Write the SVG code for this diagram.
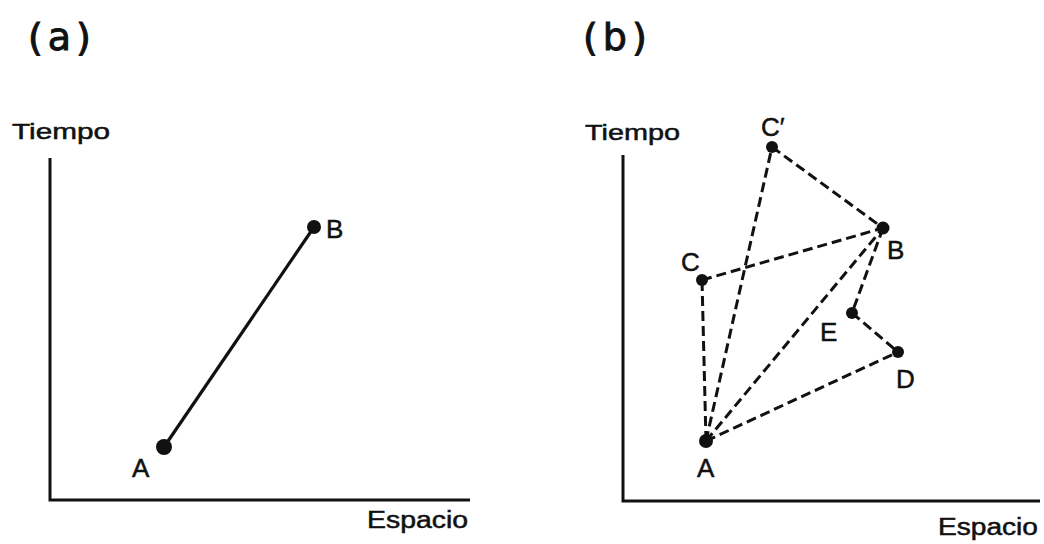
<svg xmlns="http://www.w3.org/2000/svg" width="1044" height="544" viewBox="0 0 1044 544">
<style>
.t{font-family:"Liberation Sans",Arial,sans-serif;fill:#111;stroke:#111;stroke-width:0.5}
.lbl{font-size:26px}
.ttl{font-family:"DejaVu Sans","Liberation Sans",sans-serif;font-size:38px;fill:#111;stroke:#111;stroke-width:1;letter-spacing:5px}
.axis{stroke:#111;stroke-width:3;fill:none}
.solid{stroke:#111;stroke-width:3.2;fill:none}
.dash{stroke:#111;stroke-width:3;fill:none;stroke-dasharray:10 5}
.dot{fill:#111}
</style>
<rect width="1044" height="544" fill="#fff"/>
<g id="panel-a">
<text class="ttl" x="28" y="50">(a)</text>
<text class="t" x="12" y="139" font-size="22" textLength="98" lengthAdjust="spacingAndGlyphs">Tiempo</text>
<text class="t" x="367" y="528" font-size="23" textLength="101" lengthAdjust="spacingAndGlyphs">Espacio</text>
<g id="axes-a"><path class="axis" d="M50,158 V500 H470"/></g>
<g id="connectors-a"><line class="solid" x1="164" y1="447" x2="314" y2="227"/></g>
<g id="a-A"><circle class="dot" cx="164" cy="447" r="8"/><text class="t lbl" x="132" y="477">A</text></g>
<g id="a-B"><circle class="dot" cx="314" cy="227" r="7"/><text class="t lbl" x="326" y="238">B</text></g>
</g>
<g id="panel-b">
<text class="ttl" x="583" y="50">(b)</text>
<text class="t" x="585" y="140" font-size="22" textLength="95" lengthAdjust="spacingAndGlyphs">Tiempo</text>
<text class="t" x="938" y="535" font-size="23" textLength="100" lengthAdjust="spacingAndGlyphs">Espacio</text>
<g id="axes-b"><path class="axis" d="M623,155 V501 H1040"/></g>
<g id="connectors-b">
<line class="dash" x1="706" y1="441" x2="702" y2="280"/>
<line class="dash" x1="706" y1="441" x2="772" y2="147"/>
<line class="dash" x1="706" y1="441" x2="883" y2="228"/>
<line class="dash" x1="706" y1="441" x2="898" y2="352"/>
<line class="dash" x1="702" y1="280" x2="883" y2="228"/>
<line class="dash" x1="772" y1="147" x2="883" y2="228"/>
<line class="dash" x1="883" y1="228" x2="852" y2="313"/>
<line class="dash" x1="852" y1="313" x2="898" y2="352"/>
</g>
<g id="b-A"><circle class="dot" cx="706" cy="441" r="7"/><text class="t lbl" x="697" y="477">A</text></g>
<g id="b-B"><circle class="dot" cx="883" cy="228" r="6.5"/><text class="t lbl" x="887" y="259">B</text></g>
<g id="b-C"><circle class="dot" cx="702" cy="280" r="6"/><text class="t lbl" x="681" y="271">C</text></g>
<g id="b-Cprime"><circle class="dot" cx="772" cy="147" r="6"/><text class="t lbl" x="761" y="136">C′</text></g>
<g id="b-D"><circle class="dot" cx="898" cy="352" r="6"/><text class="t lbl" x="896" y="388">D</text></g>
<g id="b-E"><circle class="dot" cx="852" cy="313" r="6"/><text class="t lbl" x="820" y="341">E</text></g>
</g>
</svg>
